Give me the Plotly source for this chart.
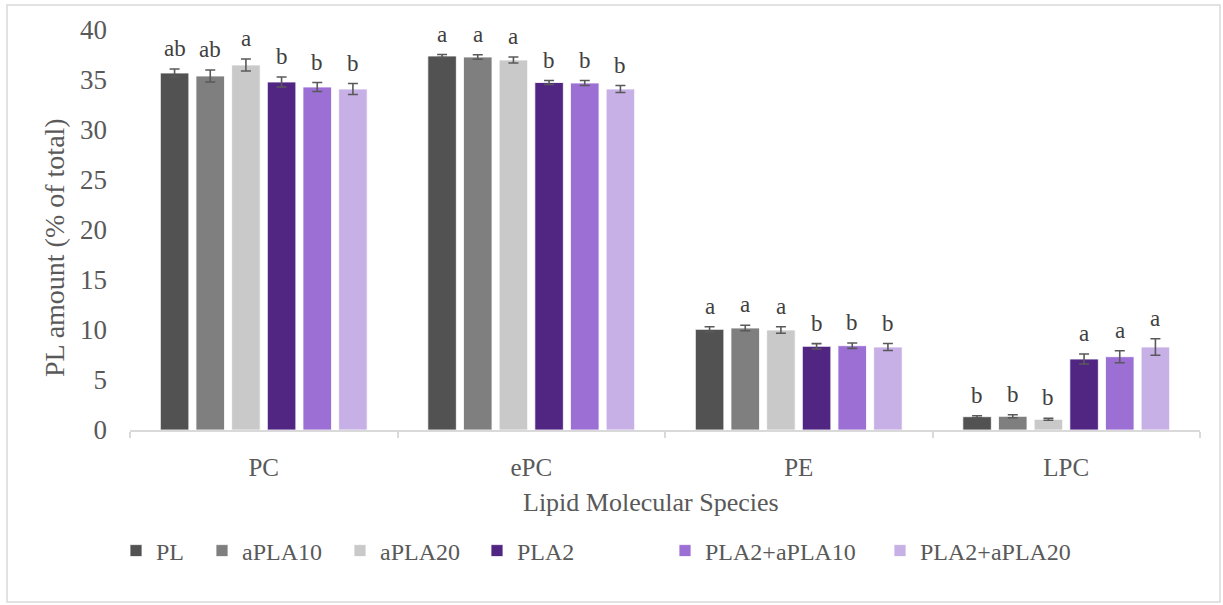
import plotly.graph_objects as go

categories = ["PC", "ePC", "PE", "LPC"]
series_names = ["PL", "aPLA10", "aPLA20", "PLA2", "PLA2+aPLA10", "PLA2+aPLA20"]
colors = ["#525252", "#7f7f7f", "#c9c9c9", "#512683", "#9b6fd4", "#c6b0e6"]

PL = [35.7, 37.4, 10.07, 1.33]
aPLA10 = [35.4, 37.3, 10.2, 1.37]
aPLA20 = [36.5, 37.0, 10.0, 1.07]
PLA2 = [34.8, 34.75, 8.37, 7.1]
PLA2_aPLA10 = [34.3, 34.7, 8.43, 7.33]
PLA2_aPLA20 = [34.1, 34.1, 8.3, 8.3]

PL_err = [0.4, 0.15, 0.25, 0.1]
aPLA10_err = [0.6, 0.23, 0.27, 0.15]
aPLA20_err = [0.6, 0.3, 0.33, 0.1]
PLA2_err = [0.5, 0.2, 0.27, 0.5]
PLA2_aPLA10_err = [0.45, 0.25, 0.27, 0.6]
PLA2_aPLA20_err = [0.55, 0.35, 0.35, 0.83]

PL_lbl = ["ab", "a", "a", "b"]
aPLA10_lbl = ["ab", "a", "a", "b"]
aPLA20_lbl = ["a", "a", "a", "b"]
PLA2_lbl = ["b", "b", "b", "a"]
PLA2_aPLA10_lbl = ["b", "b", "b", "a"]
PLA2_aPLA20_lbl = ["b", "b", "b", "a"]

values = [PL, aPLA10, aPLA20, PLA2, PLA2_aPLA10, PLA2_aPLA20]
errors = [PL_err, aPLA10_err, aPLA20_err, PLA2_err, PLA2_aPLA10_err, PLA2_aPLA20_err]
labels = [PL_lbl, aPLA10_lbl, aPLA20_lbl, PLA2_lbl, PLA2_aPLA10_lbl, PLA2_aPLA20_lbl]

FONT = "Liberation Serif, Times New Roman, serif"
TXT = "#595959"
bargap = 0.2
n = len(series_names)
xs = list(range(len(categories)))

# plot area in pixels (for placing legends / frame in paper coords)
L, R, T, B = 130, 23, 30, 175
W, H = 1223, 605
PW, PH = W - L - R, H - T - B


def px_x(px):
    return (px - L) / PW


def px_y(py):
    return (H - B - py) / PH


legend_left_px = [116, 202, 340, 477, 665, 880]

fig = go.Figure()
annotations = []
legends = {}
for j, name in enumerate(series_names):
    lname = "legend" if j == 0 else f"legend{j + 1}"
    fig.add_trace(go.Bar(
        name=name, x=xs, y=values[j],
        marker=dict(color=colors[j], line=dict(color="white", width=0.8)),
        error_y=dict(type="data", array=errors[j], visible=True,
                     color="#595959", thickness=1.6, width=5),
        legend=lname,
    ))
    legends[lname] = dict(
        x=px_x(legend_left_px[j]), xanchor="left", y=px_y(551), yanchor="middle",
        orientation="h", font=dict(family=FONT, size=24, color=TXT),
        bgcolor="rgba(0,0,0,0)", itemwidth=30,
    )
    off = (j - (n - 1) / 2) * (1 - bargap) / n
    for i in xs:
        annotations.append(dict(
            x=i + off, y=values[j][i] + errors[j][i], text=labels[j][i],
            showarrow=False, yanchor="bottom", yshift=6,
            font=dict(family=FONT, size=23, color="#404040"),
        ))

annotations.append(dict(
    text="PL amount (% of total)", textangle=-90, showarrow=False,
    xref="paper", yref="paper", x=px_x(55), y=px_y(248),
    xanchor="center", yanchor="middle",
    font=dict(family=FONT, size=28, color=TXT),
))
annotations.append(dict(
    text="Lipid Molecular Species", showarrow=False,
    xref="paper", yref="paper", x=px_x(651), y=px_y(502),
    xanchor="center", yanchor="middle",
    font=dict(family=FONT, size=26, color=TXT),
))

fig.update_layout(
    width=W, height=H,
    margin=dict(l=L, r=R, t=T, b=B),
    barmode="group", bargap=bargap, bargroupgap=0.2,
    plot_bgcolor="white", paper_bgcolor="white",
    font=dict(family=FONT, color=TXT),
    annotations=annotations,
    showlegend=True,
    shapes=[dict(type="rect", xref="paper", yref="paper",
                 x0=px_x(7), x1=px_x(1220), y0=px_y(602), y1=px_y(5),
                 line=dict(color="#d9d9d9", width=1.5), layer="below")],
    **legends,
)
fig.update_xaxes(
    range=[-0.5, 3.5], tickvals=xs, ticktext=categories, ticks="",
    showline=True, linecolor="#d9d9d9", linewidth=1.5, showgrid=False, zeroline=False,
    tickfont=dict(family=FONT, size=25, color=TXT), ticklabelstandoff=14,
    minor=dict(tickvals=[-0.5, 0.5, 1.5, 2.5, 3.5], ticks="outside", ticklen=6,
               tickcolor="#d9d9d9", tickwidth=1.5, showgrid=False),
)
fig.update_yaxes(
    range=[0, 40], dtick=5, showgrid=False, zeroline=False, showline=False,
    tickfont=dict(family=FONT, size=27, color=TXT), ticks="", ticklabelstandoff=22,
)

fig.write_html("out.html")
